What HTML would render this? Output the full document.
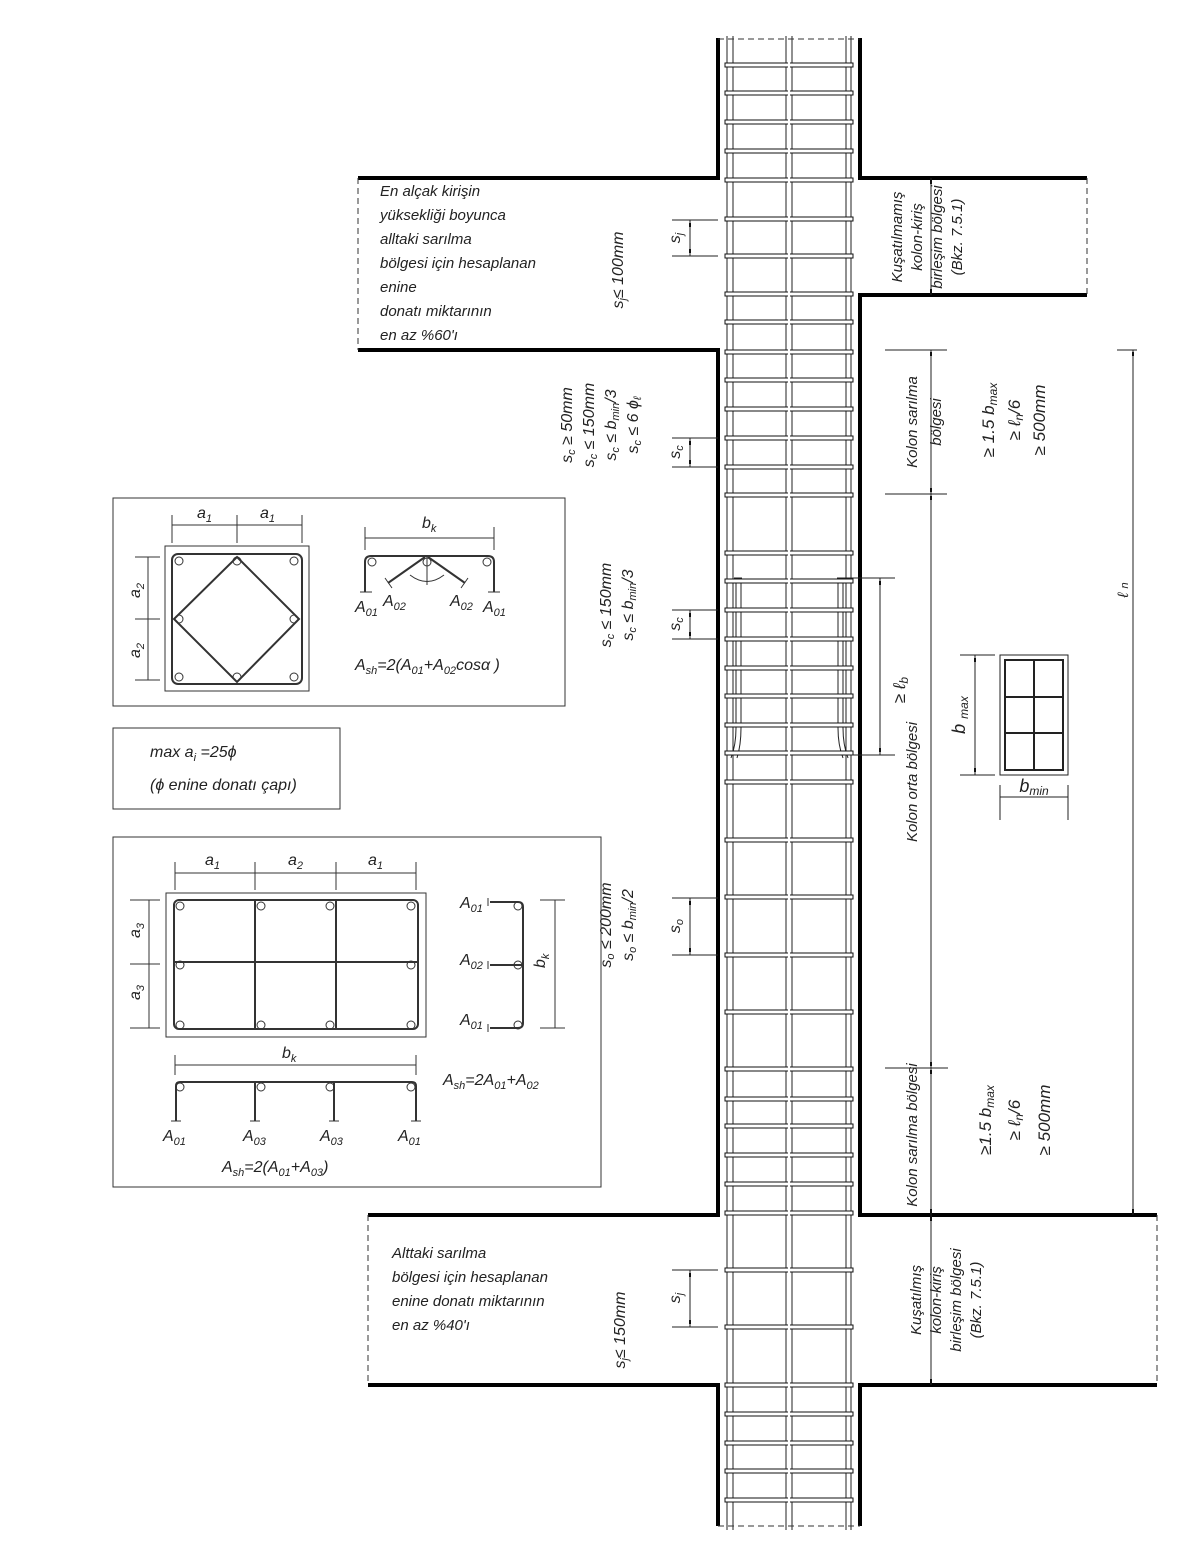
<!DOCTYPE html>
<html><head><meta charset="utf-8"><style>
html,body{margin:0;padding:0;background:#fff}
svg{display:block}
text{font-family:"Liberation Sans Narrow","Liberation Sans",sans-serif;font-style:italic;fill:#222}
</style></head><body>
<svg width="1200" height="1555" viewBox="0 0 1200 1555" xmlns="http://www.w3.org/2000/svg">
<defs>
<g id="st"><rect x="725" y="-2" width="128" height="4" fill="#fff" stroke="#111" stroke-width="1"/><line x1="789" y1="-3" x2="789" y2="3" stroke="#fff" stroke-width="2"/></g>
</defs>
<g stroke="#222" stroke-width="1" fill="none">
<line x1="727" y1="36" x2="727" y2="1530"/><line x1="733" y1="36" x2="733" y2="1530"/>
<line x1="786" y1="36" x2="786" y2="1530"/><line x1="792" y1="36" x2="792" y2="1530"/>
<line x1="846" y1="36" x2="846" y2="1530"/><line x1="851" y1="36" x2="851" y2="1530"/>
<path d="M736 578 V728 Q736 745 731 758"/><path d="M741 578 V728 Q741 745 737 758"/>
<path d="M838 578 V728 Q838 745 843 758"/><path d="M843 578 V728 Q843 745 848 758"/>
<line x1="734" y1="578" x2="742" y2="578"/><line x1="837" y1="578" x2="845" y2="578"/>
</g>
<g>
<use href="#st" y="65"/><use href="#st" y="93"/><use href="#st" y="122"/><use href="#st" y="151"/><use href="#st" y="180"/>
<use href="#st" y="219"/><use href="#st" y="256"/><use href="#st" y="294"/><use href="#st" y="322"/><use href="#st" y="352"/>
<use href="#st" y="380"/><use href="#st" y="409"/><use href="#st" y="438"/><use href="#st" y="467"/><use href="#st" y="495"/>
<use href="#st" y="553"/><use href="#st" y="581"/><use href="#st" y="610"/><use href="#st" y="639"/><use href="#st" y="668"/>
<use href="#st" y="696"/><use href="#st" y="725"/><use href="#st" y="753"/><use href="#st" y="782"/><use href="#st" y="840"/>
<use href="#st" y="897"/><use href="#st" y="955"/><use href="#st" y="1012"/><use href="#st" y="1069"/><use href="#st" y="1099"/>
<use href="#st" y="1126"/><use href="#st" y="1155"/><use href="#st" y="1184"/><use href="#st" y="1213"/><use href="#st" y="1270"/>
<use href="#st" y="1327"/><use href="#st" y="1385"/><use href="#st" y="1414"/><use href="#st" y="1443"/><use href="#st" y="1471"/><use href="#st" y="1500"/>
</g>
<g stroke="#000" stroke-width="4" fill="none">
<path d="M718 38 V178 H358"/><path d="M860 38 V178 H1087"/>
<path d="M358 350 H718 V1215 H368"/><path d="M1087 295 H860 V1215 H1157"/>
<path d="M368 1385 H718 V1526"/><path d="M1157 1385 H860 V1526"/>
</g>
<g stroke="#333" stroke-width="1" stroke-dasharray="6,4" fill="none">
<line x1="718" y1="39" x2="860" y2="39"/><line x1="718" y1="1526" x2="860" y2="1526"/>
<line x1="358" y1="178" x2="358" y2="350"/><line x1="1087" y1="178" x2="1087" y2="295"/>
<line x1="368" y1="1215" x2="368" y2="1385"/><line x1="1157" y1="1215" x2="1157" y2="1385"/>
</g>
<g stroke="#222" stroke-width="1" fill="none">
<line x1="672" y1="220" x2="718" y2="220"/><line x1="672" y1="256" x2="718" y2="256"/><line x1="690" y1="220" x2="690" y2="256"/>
<line x1="672" y1="438" x2="718" y2="438"/><line x1="672" y1="467" x2="718" y2="467"/><line x1="690" y1="438" x2="690" y2="467"/>
<line x1="672" y1="610" x2="718" y2="610"/><line x1="672" y1="639" x2="718" y2="639"/><line x1="690" y1="610" x2="690" y2="639"/>
<line x1="672" y1="898" x2="718" y2="898"/><line x1="672" y1="955" x2="718" y2="955"/><line x1="690" y1="898" x2="690" y2="955"/>
<line x1="672" y1="1270" x2="718" y2="1270"/><line x1="672" y1="1327" x2="718" y2="1327"/><line x1="690" y1="1270" x2="690" y2="1327"/>
<line x1="931" y1="178" x2="931" y2="295"/>
<line x1="885" y1="350" x2="947" y2="350"/><line x1="885" y1="494" x2="947" y2="494"/><line x1="931" y1="350" x2="931" y2="1215"/>
<line x1="885" y1="1068" x2="948" y2="1068"/><line x1="931" y1="1215" x2="931" y2="1385"/>
<line x1="1117" y1="350" x2="1137" y2="350"/><line x1="1133" y1="350" x2="1133" y2="1215"/>
<line x1="845" y1="578" x2="895" y2="578"/><line x1="845" y1="755" x2="895" y2="755"/><line x1="880" y1="578" x2="880" y2="755"/>
<line x1="960" y1="655" x2="995" y2="655"/><line x1="960" y1="775" x2="995" y2="775"/><line x1="975" y1="655" x2="975" y2="775"/>
<line x1="1000" y1="785" x2="1000" y2="820"/><line x1="1068" y1="785" x2="1068" y2="820"/><line x1="1000" y1="797" x2="1068" y2="797"/>
</g>
<g fill="#111">
<rect x="689" y="223" width="2" height="4"/><rect x="689" y="249" width="2" height="4"/>
<rect x="689" y="441" width="2" height="4"/><rect x="689" y="460" width="2" height="4"/>
<rect x="689" y="613" width="2" height="4"/><rect x="689" y="632" width="2" height="4"/>
<rect x="689" y="901" width="2" height="4"/><rect x="689" y="948" width="2" height="4"/>
<rect x="689" y="1273" width="2" height="4"/><rect x="689" y="1320" width="2" height="4"/>
<rect x="930" y="352" width="2" height="4"/><rect x="930" y="488" width="2" height="4"/><rect x="930" y="496" width="2" height="4"/>
<rect x="930" y="1062" width="2" height="4"/><rect x="930" y="1070" width="2" height="4"/><rect x="930" y="1209" width="2" height="4"/>
<rect x="930" y="1217" width="2" height="4"/><rect x="930" y="1379" width="2" height="4"/><rect x="930" y="180" width="2" height="4"/><rect x="930" y="289" width="2" height="4"/>
<rect x="1132" y="352" width="2" height="4"/><rect x="1132" y="1209" width="2" height="4"/>
<rect x="879" y="581" width="2" height="4"/><rect x="879" y="748" width="2" height="4"/>
<rect x="974" y="658" width="2" height="4"/><rect x="974" y="768" width="2" height="4"/>
</g>
<g fill="none" stroke="#222" stroke-width="1">
<rect x="1000" y="655" width="68" height="120"/>
<rect x="1005" y="660" width="58" height="110" stroke-width="2"/>
<line x1="1034" y1="660" x2="1034" y2="770" stroke-width="2"/>
<line x1="1005" y1="697" x2="1063" y2="697" stroke-width="2"/><line x1="1005" y1="733" x2="1063" y2="733" stroke-width="2"/>
</g>
<g font-size="15">
<text x="380" y="196">En alçak kirişin</text><text x="380" y="220">yüksekliği boyunca</text>
<text x="380" y="244">alltaki sarılma</text><text x="380" y="268">bölgesi için hesaplanan</text>
<text x="380" y="292">enine</text><text x="380" y="316">donatı miktarının</text><text x="380" y="340">en az %60'ı</text>
<text x="392" y="1258">Alttaki sarılma</text><text x="392" y="1282">bölgesi için hesaplanan</text>
<text x="392" y="1306">enine donatı miktarının</text><text x="392" y="1330">en az %40'ı</text>
</g>
<g font-size="16" text-anchor="middle">
<text transform="translate(680,238) rotate(-90)">s<tspan font-size="11" dy="3">j</tspan></text>
<text transform="translate(623,270) rotate(-90)">s<tspan font-size="11" dy="3">j</tspan><tspan dy="-3">≤ 100mm</tspan></text>
<text transform="translate(680,452) rotate(-90)">s<tspan font-size="11" dy="3">c</tspan></text>
<text transform="translate(680,624) rotate(-90)">s<tspan font-size="11" dy="3">c</tspan></text>
<text transform="translate(680,926) rotate(-90)">s<tspan font-size="11" dy="3">o</tspan></text>
<text transform="translate(680,1298) rotate(-90)">s<tspan font-size="11" dy="3">j</tspan></text>
<text transform="translate(625,1330) rotate(-90)">s<tspan font-size="11" dy="3">j</tspan><tspan dy="-3">≤ 150mm</tspan></text>
<text transform="translate(572,425) rotate(-90)">s<tspan font-size="11" dy="3">c</tspan><tspan dy="-3"> ≥ 50mm</tspan></text>
<text transform="translate(594,425) rotate(-90)">s<tspan font-size="11" dy="3">c</tspan><tspan dy="-3"> ≤ 150mm</tspan></text>
<text transform="translate(616,425) rotate(-90)">s<tspan font-size="11" dy="3">c</tspan><tspan dy="-3"> ≤ b</tspan><tspan font-size="11" dy="3">min</tspan><tspan dy="-3">/3</tspan></text>
<text transform="translate(638,425) rotate(-90)">s<tspan font-size="11" dy="3">c</tspan><tspan dy="-3"> ≤ 6 ϕ</tspan><tspan font-size="11" dy="3">ℓ</tspan></text>
<text transform="translate(611,605) rotate(-90)">s<tspan font-size="11" dy="3">c</tspan><tspan dy="-3"> ≤ 150mm</tspan></text>
<text transform="translate(633,605) rotate(-90)">s<tspan font-size="11" dy="3">c</tspan><tspan dy="-3"> ≤ b</tspan><tspan font-size="11" dy="3">min</tspan><tspan dy="-3">/3</tspan></text>
<text transform="translate(611,925) rotate(-90)">s<tspan font-size="11" dy="3">o</tspan><tspan dy="-3"> ≤ 200mm</tspan></text>
<text transform="translate(633,925) rotate(-90)">s<tspan font-size="11" dy="3">o</tspan><tspan dy="-3"> ≤ b</tspan><tspan font-size="11" dy="3">min</tspan><tspan dy="-3">/2</tspan></text>
</g>
<g font-size="15" text-anchor="middle">
<text transform="translate(902,237) rotate(-90)">Kuşatılmamış</text>
<text transform="translate(922,237) rotate(-90)">kolon-kiriş</text>
<text transform="translate(942,237) rotate(-90)">birleşim bölgesi</text>
<text transform="translate(962,237) rotate(-90)">(Bkz. 7.5.1)</text>
<text transform="translate(917,422) rotate(-90)">Kolon sarılma</text>
<text transform="translate(941,422) rotate(-90)">bölgesi</text>
<text transform="translate(994,420) rotate(-90)" font-size="17">≥ 1.5 b<tspan font-size="12" dy="3">max</tspan></text>
<text transform="translate(1020,420) rotate(-90)" font-size="17">≥ ℓ<tspan font-size="12" dy="3">n</tspan><tspan dy="-3">/6</tspan></text>
<text transform="translate(1045,420) rotate(-90)" font-size="17">≥ 500mm</text>
<text transform="translate(917,782) rotate(-90)">Kolon orta bölgesi</text>
<text transform="translate(905,690) rotate(-90)" font-size="17">≥ ℓ<tspan font-size="12" dy="3">b</tspan></text>
<text transform="translate(1128,590) rotate(-90)">ℓ <tspan font-size="11">n</tspan></text>
<text transform="translate(965,715) rotate(-90)" font-size="18">b <tspan font-size="12" dy="3">max</tspan></text>
<text x="1034" y="792" font-size="18">b<tspan font-size="12" dy="3">min</tspan></text>
<text transform="translate(917,1135) rotate(-90)">Kolon sarılma bölgesi</text>
<text transform="translate(991,1120) rotate(-90)" font-size="17">≥1.5 b<tspan font-size="12" dy="3">max</tspan></text>
<text transform="translate(1020,1120) rotate(-90)" font-size="17">≥ ℓ<tspan font-size="12" dy="3">n</tspan><tspan dy="-3">/6</tspan></text>
<text transform="translate(1050,1120) rotate(-90)" font-size="17">≥ 500mm</text>
<text transform="translate(921,1300) rotate(-90)">Kuşatılmış</text>
<text transform="translate(941,1300) rotate(-90)">kolon-kiriş</text>
<text transform="translate(961,1300) rotate(-90)">birleşim bölgesi</text>
<text transform="translate(981,1300) rotate(-90)">(Bkz. 7.5.1)</text>
</g>
<g fill="none" stroke="#333" stroke-width="1">
<rect x="113" y="498" width="452" height="208"/>
<rect x="165" y="546" width="144" height="145"/>
<rect x="172" y="554" width="130" height="130" rx="6" stroke-width="2"/>
<path d="M237 557 L299 619 L237 682 L174 619 Z" stroke-width="2"/>
<line x1="172" y1="525" x2="302" y2="525"/><line x1="172" y1="515" x2="172" y2="543"/><line x1="237" y1="515" x2="237" y2="543"/><line x1="302" y1="515" x2="302" y2="543"/>
<line x1="148" y1="557" x2="148" y2="680"/><line x1="135" y1="557" x2="160" y2="557"/><line x1="135" y1="619" x2="160" y2="619"/><line x1="135" y1="680" x2="160" y2="680"/>
<line x1="365" y1="538" x2="494" y2="538"/><line x1="365" y1="527" x2="365" y2="550"/><line x1="494" y1="527" x2="494" y2="550"/>
<path d="M365 592 V562 Q365 556 371 556 H488 Q494 556 494 562 V592" stroke-width="2"/>
<path d="M425 557 L388 583 M428 557 L465 583" stroke-width="2"/>
<path d="M360 592 H372 M488 592 H500 M385 578 L392 588 M468 578 L461 588"/>
<path d="M410 575 Q427 588 444 575"/><line x1="427" y1="557" x2="427" y2="585"/>
<circle cx="179" cy="561" r="4"/><circle cx="237" cy="561" r="4"/><circle cx="294" cy="561" r="4"/>
<circle cx="179" cy="619" r="4"/><circle cx="294" cy="619" r="4"/>
<circle cx="179" cy="677" r="4"/><circle cx="237" cy="677" r="4"/><circle cx="294" cy="677" r="4"/>
<circle cx="372" cy="562" r="4"/><circle cx="427" cy="562" r="4"/><circle cx="487" cy="562" r="4"/>
<rect x="113" y="728" width="227" height="81"/>
<rect x="113" y="837" width="488" height="350"/>
<rect x="166" y="893" width="260" height="144"/>
<rect x="174" y="900" width="244" height="129" rx="5" stroke-width="2"/>
<line x1="255" y1="900" x2="255" y2="1029" stroke-width="2"/><line x1="336" y1="900" x2="336" y2="1029" stroke-width="2"/>
<line x1="174" y1="962" x2="418" y2="962" stroke-width="2"/>
<line x1="175" y1="873" x2="416" y2="873"/>
<line x1="175" y1="862" x2="175" y2="890"/><line x1="255" y1="862" x2="255" y2="890"/><line x1="336" y1="862" x2="336" y2="890"/><line x1="416" y1="862" x2="416" y2="890"/>
<line x1="149" y1="900" x2="149" y2="1028"/><line x1="130" y1="900" x2="160" y2="900"/><line x1="130" y1="964" x2="160" y2="964"/><line x1="130" y1="1028" x2="160" y2="1028"/>
<line x1="175" y1="1065" x2="416" y2="1065"/><line x1="175" y1="1055" x2="175" y2="1075"/><line x1="416" y1="1055" x2="416" y2="1075"/>
<path d="M176 1121 V1086 Q176 1082 180 1082 H412 Q416 1082 416 1086 V1121" stroke-width="2"/>
<line x1="255" y1="1082" x2="255" y2="1121" stroke-width="2"/><line x1="334" y1="1082" x2="334" y2="1121" stroke-width="2"/>
<path d="M171 1121 H181 M250 1121 H260 M329 1121 H339 M411 1121 H421"/>
<path d="M490 902 H518 Q523 902 523 907 V1023 Q523 1028 518 1028 H490" stroke-width="2"/>
<line x1="490" y1="965" x2="523" y2="965" stroke-width="2"/>
<path d="M488 898 V906 M488 961 V969 M488 1024 V1032"/>
<line x1="555" y1="900" x2="555" y2="1028"/><line x1="540" y1="900" x2="565" y2="900"/><line x1="540" y1="1028" x2="565" y2="1028"/>
<circle cx="180" cy="906" r="4"/><circle cx="261" cy="906" r="4"/><circle cx="330" cy="906" r="4"/><circle cx="411" cy="906" r="4"/>
<circle cx="180" cy="965" r="4"/><circle cx="411" cy="965" r="4"/>
<circle cx="180" cy="1025" r="4"/><circle cx="261" cy="1025" r="4"/><circle cx="330" cy="1025" r="4"/><circle cx="411" cy="1025" r="4"/>
<circle cx="518" cy="906" r="4"/><circle cx="518" cy="965" r="4"/><circle cx="518" cy="1025" r="4"/>
<circle cx="180" cy="1087" r="4"/><circle cx="261" cy="1087" r="4"/><circle cx="330" cy="1087" r="4"/><circle cx="411" cy="1087" r="4"/>
</g>
<g font-size="16">
<text x="197" y="518">a<tspan font-size="11" dy="4">1</tspan></text><text x="260" y="518">a<tspan font-size="11" dy="4">1</tspan></text>
<text transform="translate(140,598) rotate(-90)">a<tspan font-size="11" dy="4">2</tspan></text>
<text transform="translate(140,658) rotate(-90)">a<tspan font-size="11" dy="4">2</tspan></text>
<text x="422" y="528">b<tspan font-size="11" dy="4">k</tspan></text>
<text x="355" y="612">A<tspan font-size="11" dy="4">01</tspan></text><text x="383" y="606">A<tspan font-size="11" dy="4">02</tspan></text>
<text x="450" y="606">A<tspan font-size="11" dy="4">02</tspan></text><text x="483" y="612">A<tspan font-size="11" dy="4">01</tspan></text>
<text x="355" y="670">A<tspan font-size="11" dy="4">sh</tspan><tspan dy="-4">=2(A</tspan><tspan font-size="11" dy="4">01</tspan><tspan dy="-4">+A</tspan><tspan font-size="11" dy="4">02</tspan><tspan dy="-4">cosα )</tspan></text>
<text x="150" y="757">max a<tspan font-size="11" dy="4">i</tspan><tspan dy="-4"> =25ϕ</tspan></text>
<text x="150" y="790">(ϕ enine donatı çapı)</text>
<text x="205" y="865">a<tspan font-size="11" dy="4">1</tspan></text><text x="288" y="865">a<tspan font-size="11" dy="4">2</tspan></text><text x="368" y="865">a<tspan font-size="11" dy="4">1</tspan></text>
<text transform="translate(140,938) rotate(-90)">a<tspan font-size="11" dy="4">3</tspan></text>
<text transform="translate(140,1000) rotate(-90)">a<tspan font-size="11" dy="4">3</tspan></text>
<text x="282" y="1058">b<tspan font-size="11" dy="4">k</tspan></text>
<text x="460" y="908">A<tspan font-size="11" dy="4">01</tspan></text><text x="460" y="965">A<tspan font-size="11" dy="4">02</tspan></text><text x="460" y="1025">A<tspan font-size="11" dy="4">01</tspan></text>
<text transform="translate(545,968) rotate(-90)">b<tspan font-size="11" dy="4">k</tspan></text>
<text x="443" y="1085">A<tspan font-size="11" dy="4">sh</tspan><tspan dy="-4">=2A</tspan><tspan font-size="11" dy="4">01</tspan><tspan dy="-4">+A</tspan><tspan font-size="11" dy="4">02</tspan></text>
<text x="163" y="1141">A<tspan font-size="11" dy="4">01</tspan></text><text x="243" y="1141">A<tspan font-size="11" dy="4">03</tspan></text>
<text x="320" y="1141">A<tspan font-size="11" dy="4">03</tspan></text><text x="398" y="1141">A<tspan font-size="11" dy="4">01</tspan></text>
<text x="222" y="1172">A<tspan font-size="11" dy="4">sh</tspan><tspan dy="-4">=2(A</tspan><tspan font-size="11" dy="4">01</tspan><tspan dy="-4">+A</tspan><tspan font-size="11" dy="4">03</tspan><tspan dy="-4">)</tspan></text>
</g>
</svg>
</body></html>
